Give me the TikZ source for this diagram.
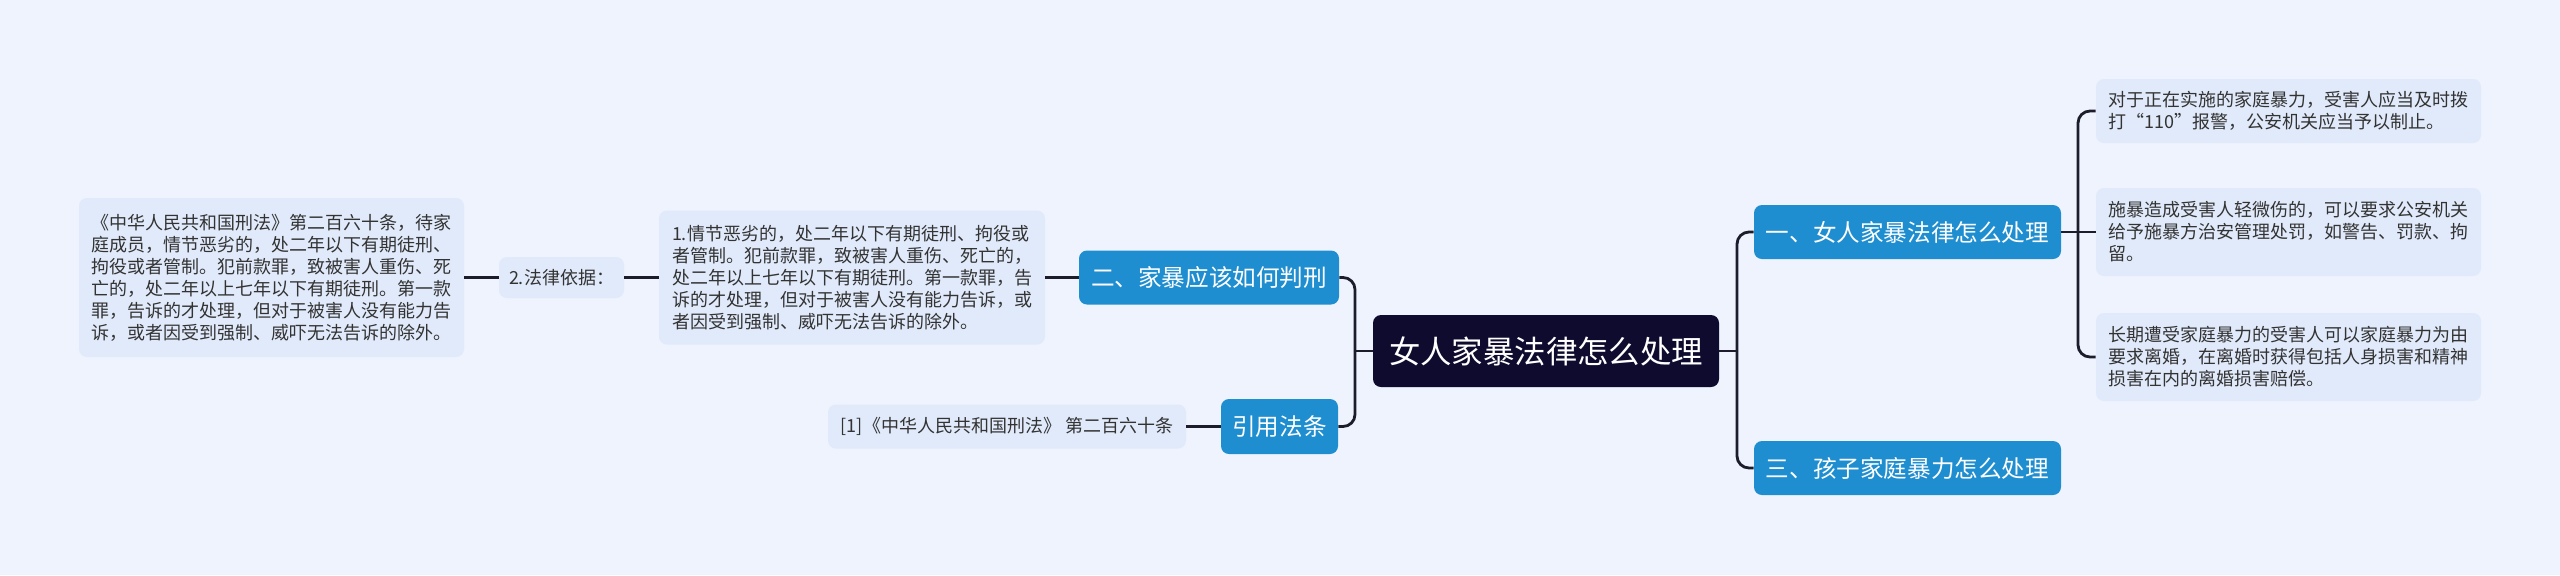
\documentclass[tikz,border=0pt]{standalone}
\usepackage{fontspec}
\setmainfont{Noto Sans CJK SC}
\definecolor{bgc}{RGB}{238,243,253}
\definecolor{leaffill}{RGB}{225,234,250}
\definecolor{bluebox}{RGB}{31,142,208}
\definecolor{rootfill}{RGB}{14,11,47}
\definecolor{linec}{RGB}{28,28,44}
\definecolor{txt}{RGB}{51,51,51}
\begin{document}
\begin{tikzpicture}[x=0.5pt,y=-0.5pt,
  leafbox/.style={fill=leaffill, rounded corners=4pt, align=left, inner sep=0pt,
    font=\fontsize{9pt}{11pt}\selectfont, text=txt},
  branchbox/.style={fill=bluebox, rounded corners=4pt, inner sep=0pt, text=white,
    font=\fontsize{11.8pt}{14pt}\selectfont},
  rootbox/.style={fill=rootfill, rounded corners=4pt, inner sep=0pt, text=white,
    font=\fontsize{15.7pt}{18pt}\selectfont},
  conn/.style={draw=linec, line width=1.4pt, rounded corners=6pt}]
\fill[bgc] (0,0) rectangle (2560,575);
\useasboundingbox (0,0) rectangle (2560,575);

% root
\node[rootbox, minimum width=173pt, minimum height=36pt] (root) at (1546,351) {女人家暴法律怎么处理};

% left side
\node[branchbox, minimum width=130pt, minimum height=27pt] (b2) at (1209,277.5) {二、家暴应该如何判刑};
\node[branchbox, minimum width=58.5pt, minimum height=27.5pt] (cite) at (1279.5,426.5) {引用法条};
\node[leafbox, minimum width=193pt, minimum height=67pt] (item1) at (852,277.5) {1.情节恶劣的，处二年以下有期徒刑、拘役或\\者管制。犯前款罪，致被害人重伤、死亡的，\\处二年以上七年以下有期徒刑。第一款罪，告\\诉的才处理，但对于被害人没有能力告诉，或\\者因受到强制、威吓无法告诉的除外。};
\node[leafbox, align=center, minimum width=62.5pt, minimum height=20.5pt] (basis) at (561.5,277.5) {2.法律依据：};
\node[leafbox, minimum width=192.5pt, minimum height=79.5pt] (law) at (271.5,277.5) {《中华人民共和国刑法》第二百六十条，待家\\庭成员，情节恶劣的，处二年以下有期徒刑、\\拘役或者管制。犯前款罪，致被害人重伤、死\\亡的，处二年以上七年以下有期徒刑。第一款\\罪，告诉的才处理，但对于被害人没有能力告\\诉，或者因受到强制、威吓无法告诉的除外。};
\node[leafbox, align=center, minimum width=179pt, minimum height=22pt] (ref) at (1007,426.5) {[1]《中华人民共和国刑法》 第二百六十条};

% right side
\node[branchbox, minimum width=153.5pt, minimum height=27pt] (b1) at (1907.5,232) {一、女人家暴法律怎么处理};
\node[branchbox, minimum width=153.5pt, minimum height=27pt] (b3) at (1907.5,468) {三、孩子家庭暴力怎么处理};
\node[leafbox, minimum width=192.5pt, minimum height=32pt] (l1) at (2288.5,111) {对于正在实施的家庭暴力，受害人应当及时拨\\打“110”报警，公安机关应当予以制止。};
\node[leafbox, minimum width=192.5pt, minimum height=44pt] (l2) at (2288.5,232) {施暴造成受害人轻微伤的，可以要求公安机关\\给予施暴方治安管理处罚，如警告、罚款、拘\\留。};
\node[leafbox, minimum width=192.5pt, minimum height=44pt] (l3) at (2288.5,357) {长期遭受家庭暴力的受害人可以家庭暴力为由\\要求离婚，在离婚时获得包括人身损害和精神\\损害在内的离婚损害赔偿。};

% connectors
\coordinate (lj) at (1355,351);
\coordinate (rj) at (1737,351);
\coordinate (bj) at (2078,232);
\draw[conn] (root.west) -- (lj);
\draw[conn] (lj) |- (b2.east);
\draw[conn] (lj) |- (cite.east);
\draw[conn] (b2.west) -- (item1.east);
\draw[conn] (item1.west) -- (basis.east);
\draw[conn] (basis.west) -- (law.east);
\draw[conn] (cite.west) -- (ref.east);
\draw[conn] (root.east) -- (rj);
\draw[conn] (rj) |- (b1.west);
\draw[conn] (rj) |- (b3.west);
\draw[conn] (b1.east) -- (bj);
\draw[conn] (bj) |- (l1.west);
\draw[conn] (bj) -- (l2.west);
\draw[conn] (bj) |- (l3.west);
\end{tikzpicture}
\end{document}
